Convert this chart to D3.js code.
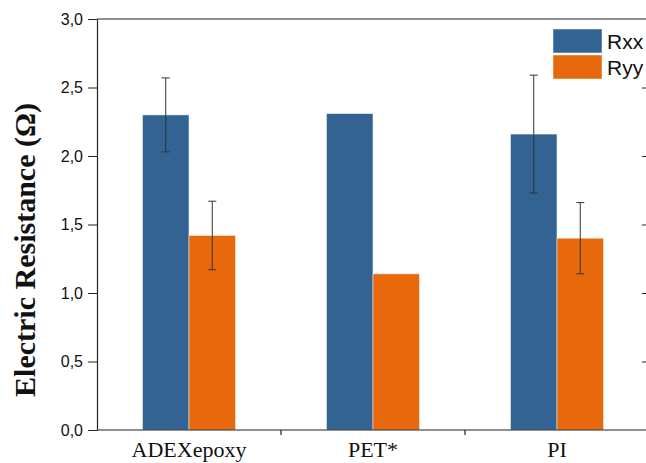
<!DOCTYPE html>
<html>
<head>
<meta charset="utf-8">
<script src="https://cdn.jsdelivr.net/npm/d3@7"></script>
<style>
  body { margin: 0; background: #fff; }
  svg { display: block; }
</style>
</head>
<body>
<svg id="chart" width="646" height="463"></svg>
<script>
// data
const categories = ['ADEXepoxy', 'PET*', 'PI'];
const series = ['Rxx', 'Ryy'];
const rxx = [2.30, 2.31, 2.16];
const ryy = [1.42, 1.14, 1.40];
const rxxErr = [0.27, null, 0.43];
const ryyErr = [0.25, null, 0.26];
const yTicks = [0, 0.5, 1.0, 1.5, 2.0, 2.5, 3.0];
const colors = ['#336392', '#e8690c'];

const svg = d3.select('#chart');
const plotLeft = 97, plotRight = 649, plotTop = 19, plotBottom = 430;

const x = d3.scaleBand()
    .domain(categories)
    .range([plotLeft, plotRight]);

const xSub = d3.scaleBand()
    .domain(series)
    .range([0, x.bandwidth()])
    .paddingInner(0)
    .paddingOuter(0.978);

const y = d3.scaleLinear()
    .domain([0, 3])
    .range([plotBottom, plotTop]);

const fmt = d => d3.format('.1f')(d).replace('.', ',');

// bars
const rows = categories.map((c, i) => ({
    cat: c,
    vals: [
        { s: 'Rxx', v: rxx[i], e: rxxErr[i] },
        { s: 'Ryy', v: ryy[i], e: ryyErr[i] }
    ]
}));

const groups = svg.append('g').selectAll('g')
    .data(rows)
    .enter()
    .append('g')
    .attr('transform', d => `translate(${x(d.cat)},0)`);

groups.selectAll('rect')
    .data(d => d.vals)
    .enter()
    .append('rect')
    .attr('x', d => xSub(d.s))
    .attr('y', d => y(d.v))
    .attr('width', xSub.bandwidth())
    .attr('height', d => y(0) - y(d.v))
    .attr('fill', (d, i) => colors[i])
    .attr('stroke', 'rgba(255,255,255,0.6)')
    .attr('stroke-width', 0.8);

// error bars
const errs = groups.selectAll('g.err')
    .data(d => d.vals.filter(v => v.e != null))
    .enter()
    .append('g')
    .attr('class', 'err')
    .attr('stroke', '#333')
    .attr('stroke-width', 1);

errs.append('line')
    .attr('x1', d => xSub(d.s) + xSub.bandwidth() / 2)
    .attr('x2', d => xSub(d.s) + xSub.bandwidth() / 2)
    .attr('y1', d => y(d.v + d.e))
    .attr('y2', d => y(d.v - d.e));

errs.selectAll('line.cap')
    .data(d => [d.v + d.e, d.v - d.e].map(v => ({ s: d.s, v })))
    .enter()
    .append('line')
    .attr('class', 'cap')
    .attr('x1', d => xSub(d.s) + xSub.bandwidth() / 2 - 4)
    .attr('x2', d => xSub(d.s) + xSub.bandwidth() / 2 + 4)
    .attr('y1', d => y(d.v))
    .attr('y2', d => y(d.v));

// frame
const frame = svg.append('g').attr('stroke', '#222').attr('stroke-width', 1.2);
frame.append('line').attr('x1', plotLeft).attr('x2', plotRight).attr('y1', plotTop).attr('y2', plotTop);
frame.append('line').attr('x1', plotLeft).attr('x2', plotRight).attr('y1', plotBottom).attr('y2', plotBottom);

// left axis
const yAxis = svg.append('g')
    .attr('transform', `translate(${plotLeft},0)`)
    .call(d3.axisLeft(y).tickValues(yTicks).tickFormat(fmt).tickSize(9).tickSizeOuter(0));
yAxis.select('.domain').attr('stroke', '#222').attr('stroke-width', 1.2);
yAxis.selectAll('.tick line').attr('stroke', '#222');
yAxis.selectAll('text')
    .attr('font-family', 'Liberation Sans, Arial, sans-serif')
    .attr('font-size', 16)
    .attr('fill', '#111')
    .attr('x', -14);

// right ticks (inward, no labels)
svg.append('g')
    .attr('transform', `translate(${plotRight},0)`)
    .call(d3.axisLeft(y).tickValues(yTicks.slice(1, -1)).tickFormat('').tickSize(7).tickSizeOuter(0))
    .call(g => g.select('.domain').attr('stroke', '#222'))
    .call(g => g.selectAll('.tick line').attr('stroke', '#222'));

// bottom axis: separators between categories
const seps = categories.slice(1).map(c => x(c));
svg.append('g').selectAll('line')
    .data(seps)
    .enter()
    .append('line')
    .attr('x1', d => d).attr('x2', d => d)
    .attr('y1', plotBottom).attr('y2', plotBottom + 5)
    .attr('stroke', '#222')
    .attr('stroke-width', 1.2);

svg.append('g').selectAll('text')
    .data(categories)
    .enter()
    .append('text')
    .attr('x', d => x(d) + x.bandwidth() / 2)
    .attr('y', 457)
    .attr('text-anchor', 'middle')
    .attr('font-family', 'Liberation Serif, Times New Roman, serif')
    .attr('font-size', 22)
    .attr('fill', '#111')
    .text(d => d);

// y title
svg.append('text')
    .attr('transform', 'translate(35,250) rotate(-90)')
    .attr('text-anchor', 'middle')
    .attr('font-family', 'Liberation Serif, Times New Roman, serif')
    .attr('font-weight', 'bold')
    .attr('font-size', 30)
    .attr('fill', '#111')
    .text('Electric Resistance (Ω)');

// legend
const legend = svg.append('g').attr('transform', 'translate(553,29)');
const li = legend.selectAll('g')
    .data(series)
    .enter()
    .append('g')
    .attr('transform', (d, i) => `translate(0,${i * 26})`);
li.append('rect')
    .attr('width', 49)
    .attr('height', 24)
    .attr('fill', (d, i) => colors[i])
    .attr('stroke', 'rgba(255,255,255,0.6)')
    .attr('stroke-width', 0.8);
li.append('text')
    .attr('x', 54)
    .attr('y', 20)
    .attr('font-family', 'Liberation Sans, Arial, sans-serif')
    .attr('font-size', 21)
    .attr('fill', '#111')
    .text(d => d);
</script>
</body>
</html>
